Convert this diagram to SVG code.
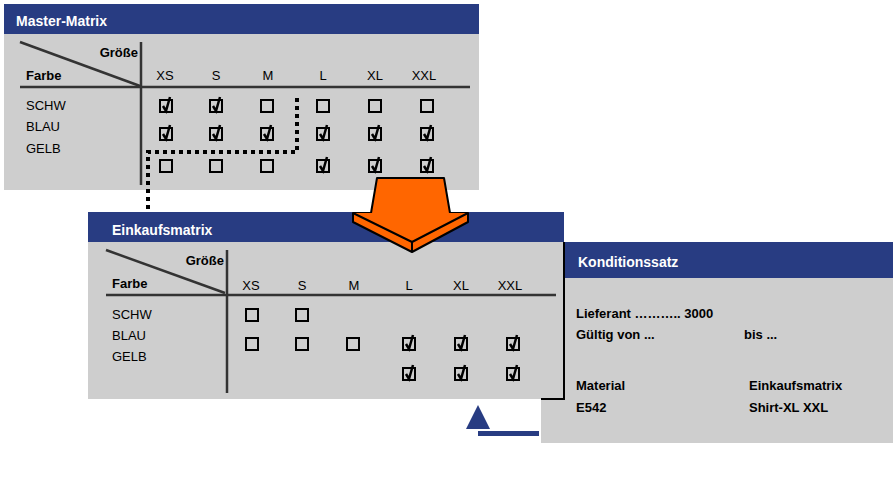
<svg xmlns="http://www.w3.org/2000/svg" xmlns:xlink="http://www.w3.org/1999/xlink" width="896" height="500" viewBox="0 0 896 500">
<style>
.hdr{fill:#283c82}.bg{fill:#cecece}
.ht{font-family:"Liberation Sans",Arial,sans-serif;font-size:14px;font-weight:bold;fill:#fff}
.b{font-family:"Liberation Sans",Arial,sans-serif;font-size:13px;font-weight:bold;fill:#000}
.n{font-family:"Liberation Sans",Arial,sans-serif;font-size:13px;fill:#000}
.c{text-anchor:middle}
.ln{stroke:#333;stroke-width:2.5;fill:none}
</style>
<defs>
<g id="box"><rect x="-6" y="-6" width="12" height="12" fill="none" stroke="#000" stroke-width="2"/></g>
<g id="chk"><use xlink:href="#box"/><path d="M-3,0 L0,5 L4,-9" fill="none" stroke="#000" stroke-width="2.5"/></g>
</defs>

<g id="konditionssatz">
<rect class="bg" x="541" y="242" width="352" height="201"/>
<rect class="hdr" x="565" y="242" width="328" height="36"/>
<text class="ht" x="578" y="267">Konditionssatz</text>
<text class="b" x="576" y="318">Lieferant ………..  3000</text>
<text class="b" x="576" y="339">Gültig von ...</text>
<text class="b" x="744" y="339">bis ...</text>
<text class="b" x="576" y="390">Material</text>
<text class="b" x="749" y="390">Einkaufsmatrix</text>
<text class="b" x="576" y="412">E542</text>
<text class="b" x="749" y="412">Shirt-XL   XXL</text>
</g>

<g id="master-matrix">
<rect class="bg" x="4" y="34" width="475" height="156"/>
<rect class="hdr" x="4" y="4" width="475" height="30"/>
<text class="ht" x="16" y="26">Master-Matrix</text>
<line x1="20" y1="42" x2="140" y2="86" class="ln" stroke-width="2"/>
<line x1="141" y1="42" x2="141" y2="185" class="ln"/>
<line x1="20" y1="87" x2="470" y2="87" class="ln"/>
<text class="b" x="138" y="57" text-anchor="end">Größe</text>
<text class="b" x="26" y="80">Farbe</text>
<g class="n c"><text x="165" y="80">XS</text><text x="216" y="80">S</text><text x="268" y="80">M</text><text x="323" y="80">L</text><text x="375" y="80">XL</text><text x="424" y="80">XXL</text></g>
<text class="n" x="26" y="110">SCHW</text><text class="n" x="26" y="131">BLAU</text><text class="n" x="26" y="153">GELB</text>
<use xlink:href="#chk" x="166" y="106"/><use xlink:href="#chk" x="216" y="106"/><use xlink:href="#box" x="267" y="106"/><use xlink:href="#box" x="323" y="106"/><use xlink:href="#box" x="375" y="106"/><use xlink:href="#box" x="427" y="106"/>
<use xlink:href="#chk" x="166" y="134"/><use xlink:href="#chk" x="216" y="134"/><use xlink:href="#chk" x="267" y="134"/><use xlink:href="#chk" x="323" y="134"/><use xlink:href="#chk" x="375" y="134"/><use xlink:href="#chk" x="427" y="134"/>
<use xlink:href="#box" x="166" y="166"/><use xlink:href="#box" x="216" y="166"/><use xlink:href="#box" x="267" y="166"/><use xlink:href="#chk" x="323" y="166"/><use xlink:href="#chk" x="375" y="166"/><use xlink:href="#chk" x="427" y="166"/>
</g>

<g id="einkaufsmatrix">
<rect class="bg" x="88" y="242" width="476" height="157"/>
<rect class="hdr" x="88" y="212" width="476" height="30"/>
<line x1="564" y1="242" x2="564" y2="399" stroke="#000" stroke-width="2"/>
<line x1="541" y1="399" x2="565" y2="399" stroke="#000" stroke-width="2"/>
<text class="ht" x="112" y="235">Einkaufsmatrix</text>
<line x1="106" y1="250" x2="225" y2="293" class="ln" stroke-width="2"/>
<line x1="227" y1="250" x2="227" y2="393" class="ln"/>
<line x1="106" y1="295" x2="556" y2="295" class="ln"/>
<text class="b" x="224" y="265" text-anchor="end">Größe</text>
<text class="b" x="112" y="288">Farbe</text>
<g class="n c"><text x="251" y="290">XS</text><text x="302" y="290">S</text><text x="354" y="290">M</text><text x="409" y="290">L</text><text x="461" y="290">XL</text><text x="510" y="290">XXL</text></g>
<text class="n" x="112" y="319">SCHW</text><text class="n" x="112" y="340">BLAU</text><text class="n" x="112" y="361">GELB</text>
<use xlink:href="#box" x="252" y="315"/><use xlink:href="#box" x="302" y="315"/>
<use xlink:href="#box" x="252" y="344"/><use xlink:href="#box" x="302" y="344"/><use xlink:href="#box" x="353" y="344"/><use xlink:href="#chk" x="409" y="344"/><use xlink:href="#chk" x="461" y="344"/><use xlink:href="#chk" x="513" y="344"/>
<use xlink:href="#chk" x="409" y="374"/><use xlink:href="#chk" x="461" y="374"/><use xlink:href="#chk" x="513" y="374"/>
</g>

<g id="connectors">
<path d="M297,98 V152 H148 V212" fill="none" stroke="#000" stroke-width="4" stroke-dasharray="4 4"/>
<g stroke="#000" stroke-width="2" stroke-linejoin="round" fill="#ff6600">
<path d="M377,178 H444 L450,213 H468 V222 L412,252 L353,222 V213 H371 Z"/>
<path d="M353,213 L412,242 L468,213"/>
<path d="M412,242 V252" fill="none"/>
</g>
<path d="M478,405 L490,429 H466 Z" fill="#283c82"/>
<rect x="478" y="431" width="61" height="5" fill="#283c82"/>
</g>
</svg>
